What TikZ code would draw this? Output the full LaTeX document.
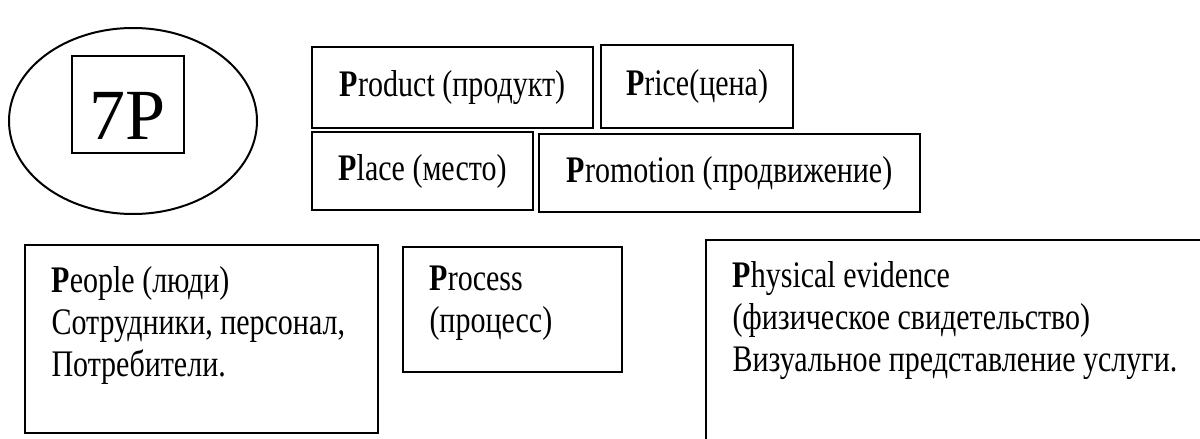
\documentclass[tikz,border=0pt]{standalone}
\usepackage{fontspec}
\setmainfont{Liberation Serif}
\usepackage{tikz}
\usetikzlibrary{shapes.geometric}

\newcommand{\tall}[1]{\scalebox{1}[1.25]{#1}}

\tikzset{
  pbox/.style={draw, line width=1.4pt, inner sep=0pt, font=\fontsize{30}{42}\selectfont},
  ptext/.style={anchor=north west, inner sep=0pt, align=left, yscale=1.25, transform shape,
    font=\fontsize{30}{33.6}\selectfont},
}

\begin{document}
\begin{tikzpicture}[x=1pt,y=-1pt]
  \useasboundingbox (0,0) rectangle (1200,439);
  \clip (0,0) rectangle (1200,439);

  \node[draw, ellipse, line width=2pt, inner sep=0pt, minimum width=248pt, minimum height=186pt] (oval) at (133,121) {};
  \node[pbox, minimum width=112pt, minimum height=97pt, text height=69pt, text depth=0pt, font=\fontsize{72}{80}\selectfont] (sevenp) at (128,104.5) {7P};

  \node[pbox, minimum width=281pt, minimum height=81pt] (product) at (452.5,87.5) {\tall{\textbf{P}roduct (продукт)}};
  \node[pbox, minimum width=192pt, minimum height=83pt] (price) at (697,86.5) {\tall{\textbf{P}rice(цена)}};
  \node[pbox, minimum width=221pt, minimum height=78pt] (place) at (422.5,171) {\tall{\textbf{P}lace (место)}};
  \node[pbox, minimum width=381pt, minimum height=78pt] (promotion) at (729.5,173) {\tall{\textbf{P}romotion (продвижение)}};

  \node[pbox, minimum width=353pt, minimum height=188pt] (people) at (201.5,339) {};
  \node[pbox, minimum width=219pt, minimum height=125pt] (process) at (512.5,309.5) {};
  \node[pbox, minimum width=504pt, minimum height=210pt] (physical) at (958,345) {};

  \node[ptext] (peopletext) at ([xshift=27pt,yshift=-21.5pt]people.north west)
    {\textbf{P}eople (люди)\\Сотрудники, персонал,\\Потребители.};
  \node[ptext] (processtext) at ([xshift=27pt,yshift=-19.5pt]process.north west)
    {\textbf{P}rocess\\(процесс)};
  \node[ptext] (physicaltext) at ([xshift=27pt,yshift=-22pt]physical.north west)
    {\textbf{P}hysical evidence\\(физическое свидетельство)\\Визуальное представление услуги.};
\end{tikzpicture}
\end{document}
